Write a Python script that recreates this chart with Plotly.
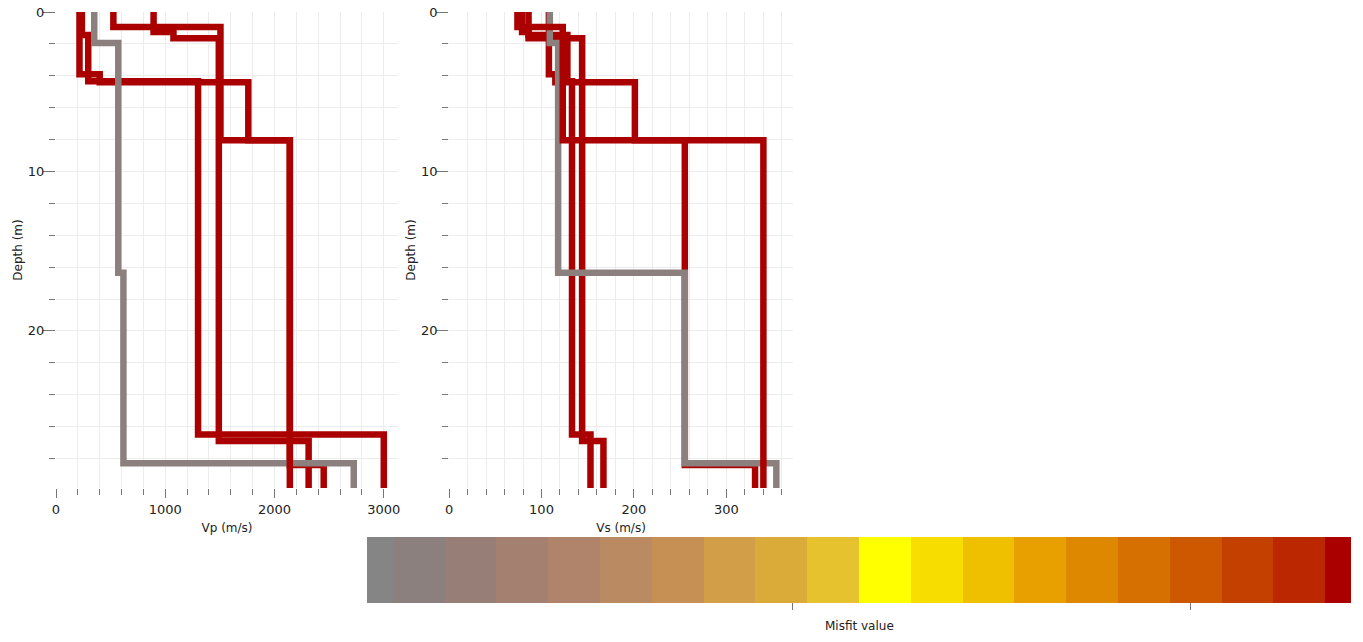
import plotly.graph_objects as go

# ---------------- data ----------------
MAX_DEPTH = 30.0

# each profile: layer top depths (m), Vp (m/s), Vs (m/s), misfit value
gray_depth = [0, 1.95, 16.35, 28.3]
gray_vp = [350, 570, 617, 2725]
gray_vs = [109, 118, 255, 354]
gray_misfit = 0.105

red_a_depth = [0, 0.94, 8.05]
red_a_vp = [525, 1505, 2140]
red_a_vs = [74, 123, 340]
red_a_misfit = 0.340

red_b_depth = [0, 1.25, 1.65, 26.9]
red_b_vp = [893, 1075, 1490, 2312]
red_b_vs = [79, 86, 144, 167]
red_b_misfit = 0.339

red_c_depth = [0, 1.45, 4.35, 26.5]
red_c_vp = [237, 295, 1300, 3000]
red_c_vs = [86, 128, 133, 153]
red_c_misfit = 0.338

red_d_depth = [0, 3.9, 4.4, 8.05, 28.4]
red_d_vp = [215, 400, 1760, 2140, 2450]
red_d_vs = [108, 115, 201, 255, 331]
red_d_misfit = 0.337

misfit_min = 0.0932
misfit_max = 0.3404
misfit_ticks = [0.2, 0.3]

palette = ["#858585", "#8C807E", "#977F78", "#A38070", "#AF846A",
           "#BA8A62", "#C69055", "#D29F48", "#DBAB3A", "#E6C22E",
           "#FFFF00", "#F8DE00", "#EFC000", "#E8A000", "#DE8800",
           "#D67000", "#CD5800", "#C44000", "#BB2800", "#AA0000"]

# ---------------- helpers ----------------
n = len(palette)
bounds = [0.0] + [(k - 0.5) / (n - 1) for k in range(1, n)] + [1.0]
colorscale = []
for i, c in enumerate(palette):
    colorscale.append([bounds[i], c])
    colorscale.append([bounds[i + 1], c])


def misfit_color(m):
    f = (m - misfit_min) / (misfit_max - misfit_min)
    f = min(max(f, 0.0), 1.0)
    for i in range(n):
        if f <= bounds[i + 1]:
            return palette[i]
    return palette[-1]


def step(depths, values):
    return list(values) + [values[-1]], list(depths) + [MAX_DEPTH]


profiles = [
    (red_d_depth, red_d_vp, red_d_vs, red_d_misfit),
    (red_b_depth, red_b_vp, red_b_vs, red_b_misfit),
    (red_c_depth, red_c_vp, red_c_vs, red_c_misfit),
    (gray_depth, gray_vp, gray_vs, gray_misfit),
    (red_a_depth, red_a_vp, red_a_vs, red_a_misfit),
]

fig = go.Figure()
for depth, vp, vs, m in profiles:
    col = misfit_color(m)
    x, y = step(depth, vp)
    fig.add_trace(go.Scatter(x=x, y=y, mode="lines", xaxis="x", yaxis="y",
                             line=dict(color=col, width=6.5, shape="vh"),
                             hoverinfo="skip", showlegend=False))
    x, y = step(depth, vs)
    fig.add_trace(go.Scatter(x=x, y=y, mode="lines", xaxis="x2", yaxis="y2",
                             line=dict(color=col, width=6.5, shape="vh"),
                             hoverinfo="skip", showlegend=False))

# colorbar carrier
fig.add_trace(go.Scatter(
    x=[None], y=[None], mode="markers", xaxis="x", yaxis="y",
    showlegend=False, hoverinfo="skip",
    marker=dict(color=[misfit_min], cmin=misfit_min, cmax=misfit_max,
                colorscale=colorscale, showscale=True,
                colorbar=dict(orientation="h", lenmode="pixels", len=984,
                              thickness=66, x=0.6201, xanchor="center",
                              y=-0.103, yanchor="top", ypad=0, xpad=0,
                              outlinewidth=0, tickmode="array",
                              tickvals=misfit_ticks, ticktext=["", ""],
                              ticks="outside", ticklen=7, tickcolor="#777"))))

FONT = "DejaVu Sans, Verdana, sans-serif"
grid = "#ececec"
tickc = "#777"

def xax(domain, rng, dtick, mdtick, title, anchor):
    return dict(domain=domain, range=rng, anchor=anchor, dtick=dtick,
                automargin=False,
                ticks="outside", ticklen=9, tickcolor=tickc, tickwidth=1,
                showgrid=True, gridcolor=grid, gridwidth=1,
                zeroline=False, showline=False,
                tickfont=dict(size=13, color="#222"),
                title=dict(text=title, font=dict(size=12, color="#222"), standoff=8),
                minor=dict(dtick=mdtick, ticks="outside", ticklen=6,
                           tickcolor=tickc, showgrid=True, gridcolor=grid))

def yax(anchor):
    return dict(domain=[0, 1], range=[29.85, 0], anchor=anchor, dtick=10,
                automargin=False, ticklabelstandoff=-4,
                ticks="outside", ticklen=12, tickcolor=tickc, tickwidth=1,
                showgrid=True, gridcolor=grid, zeroline=False, showline=False,
                tickfont=dict(size=13, color="#222"),
                title=dict(text="Depth (m)", font=dict(size=12, color="#222"), standoff=2),
                minor=dict(dtick=2, ticks="outside", ticklen=6,
                           tickcolor=tickc, showgrid=True, gridcolor=grid))

fig.update_layout(
    width=1363, height=642,
    margin=dict(l=56, r=12, t=12, b=154, autoexpand=False),
    paper_bgcolor="white", plot_bgcolor="white",
    font=dict(family=FONT, color="#222"),
    showlegend=False,
    xaxis=xax([0, 0.2641], [0, 3130], 1000, 200, "Vp (m/s)", "y"),
    xaxis2=xax([0.3035, 0.5691], [0, 372], 100, 20, "Vs (m/s)", "y2"),
    yaxis=yax("x"),
    yaxis2=yax("x2"),
    annotations=[dict(text="Misfit value", xref="paper", yref="paper",
                      x=0.6201, y=(488 - 626) / 476, xanchor="center",
                      yanchor="middle", showarrow=False,
                      font=dict(size=12, color="#222"))],
)

fig.write_html("out.html",
               config={"displayModeBar": False},
               post_script="document.body.style.margin='0';"
                           "document.body.style.overflow='hidden';")
